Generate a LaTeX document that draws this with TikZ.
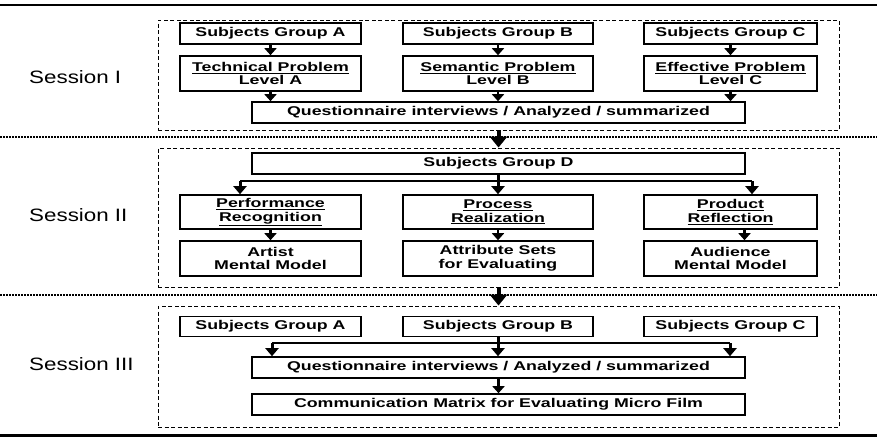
\documentclass[tikz,border=0pt]{standalone}
\usepackage{fontspec}
\setmainfont{Liberation Sans}
\newfontfamily\boxfont[FakeStretch=1.4]{Liberation Sans}
\newfontfamily\sessfont[FakeStretch=1.25]{Liberation Sans}
\usetikzlibrary{arrows.meta}

\tikzset{
	box/.style={draw=black, line width=1.6pt, inner sep=0pt, align=center,
		font=\boxfont\bfseries\fontsize{12.7}{13.6}\selectfont},
	colA/.style={box, minimum width=181pt},
	colB/.style={box, minimum width=190pt},
	colC/.style={box, minimum width=173pt},
	wide/.style={box, minimum width=493pt, minimum height=21pt},
	frame/.style={draw=black, line width=0.9pt, dash pattern=on 4pt off 2.5pt,
		minimum width=681pt, inner sep=0pt},
	sess/.style={anchor=base west, inner sep=0pt, font=\sessfont\fontsize{17.9}{20}\selectfont},
	small/.style={line width=2.5pt, -{Triangle[width=12pt,length=7pt]}},
	bararrow/.style={line width=3pt, -{Triangle[width=13pt,length=8pt]}},
	bigarrow/.style={line width=4pt, -{Triangle[width=17pt,length=11pt]}},
	barline/.style={line width=2.5pt}
}

\begin{document}
\begin{tikzpicture}[x=1pt,y=-1pt]
	\useasboundingbox (0,0) rectangle (877,437);
	
	\draw[line width=2.5pt] (0,5) -- (877,5);
	\draw[line width=1.5pt, dash pattern=on 1.5pt off 1.5pt] (0,137) -- (877,137);
	\draw[line width=1.5pt, dash pattern=on 1.5pt off 1.5pt] (0,295) -- (877,295);
	\draw[line width=3pt] (0,435) -- (877,435);
	
	\node[frame, minimum height=110pt] (s1) at (498.5, 75)    {};
	\node[frame, minimum height=139pt] (s2) at (498.5, 217.5) {};
	\node[frame, minimum height=121pt] (s3) at (498.5, 366.5) {};
	
	\node[sess] (l1) at (29, 83.5)  {Session I};
	\node[sess] (l2) at (29, 221.7) {Session II};
	\node[sess] (l3) at (29, 370.7) {Session III};
	
	% session I
	\node[colA, minimum height=21pt] (ga1) at (270.5, 33.5) {Subjects Group A};
	\node[colB, minimum height=21pt] (gb1) at (498, 33.5)   {Subjects Group B};
	\node[colC, minimum height=21pt] (gc1) at (730.5, 33.5) {Subjects Group C};
	
	\node[colA, minimum height=35pt] (tech) at (270.5, 73.5) {\underline{Technical Problem}\\Level A};
	\node[colB, minimum height=35pt] (sem)  at (498, 73.5)   {\underline{Semantic Problem}\\Level B};
	\node[colC, minimum height=35pt] (eff)  at (730.5, 73.5) {\underline{Effective Problem}\\Level C};
	
	\node[wide] (q1) at (498.5, 112.5) {Questionnaire interviews / Analyzed / summarized};
	
	\path[small] (ga1) edge (tech);
	\path[small] (gb1) edge (sem);
	\path[small] (gc1) edge (eff);
	\draw[small] (tech.south) -- (tech.south |- q1.north);
	\draw[small] (sem.south) -- (sem.south |- q1.north);
	\draw[small] (eff.south) -- (eff.south |- q1.north);
	
	\draw[bigarrow] (s1.south) -- (s2.north);
	
	% session II
	\node[wide] (gd) at (498.5, 163.5) {Subjects Group D};
	
	\node[colA, minimum height=34pt] (perf) at (270.5, 212) {\underline{Performance}\\\underline{Recognition}};
	\node[colB, minimum height=34pt] (proc) at (498, 212)   {\underline{Process}\\\underline{Realization}};
	\node[colC, minimum height=34pt] (prod) at (730.5, 212) {\underline{Product}\\\underline{Reflection}};
	
	\node[colA, minimum height=35pt] (art)  at (270.5, 258.5) {Artist\\Mental Model};
	\node[colB, minimum height=35pt] (attr) at (498, 258.5)   {Attribute Sets\\for Evaluating};
	\node[colC, minimum height=35pt] (aud)  at (730.5, 258.5) {Audience\\Mental Model};
	
	\coordinate (bl2) at (240, 181);
	\coordinate (br2) at (752, 181);
	\draw[barline] (bl2) -- (br2);
	\draw[bararrow] (bl2) -- (bl2 |- perf.north);
	\draw[bararrow] (br2) -- (br2 |- prod.north);
	\draw[bararrow] (gd.south -| proc.north) -- (proc.north);
	
	\path[small] (perf) edge (art);
	\path[small] (proc) edge (attr);
	\draw[small] ([xshift=14pt]prod.south) -- ([xshift=14pt]aud.north);
	
	\draw[bigarrow] (s2.south) -- (s3.north);
	
	% session III
	\node[colA, minimum height=20pt] (ga3) at (270.5, 326.5) {Subjects Group A};
	\node[colB, minimum height=20pt] (gb3) at (498, 326.5)   {Subjects Group B};
	\node[colC, minimum height=20pt] (gc3) at (730.5, 326.5) {Subjects Group C};
	
	\node[wide] (q3)   at (498.5, 367.5) {Questionnaire interviews / Analyzed / summarized};
	\node[wide] (comm) at (498.5, 404.5) {Communication Matrix for Evaluating Micro Film};
	
	\coordinate (bl3) at (272, 343);
	\coordinate (br3) at (730, 343);
	\draw[barline] (bl3) -- (br3);
	\draw[bararrow] (bl3) -- (bl3 |- q3.north);
	\draw[bararrow] (br3) -- (br3 |- q3.north);
	\draw[bararrow] (gb3.south) -- (gb3.south |- q3.north);
	
	\draw[small] (q3.south -| comm.north) -- (comm.north);
\end{tikzpicture}
\end{document}
